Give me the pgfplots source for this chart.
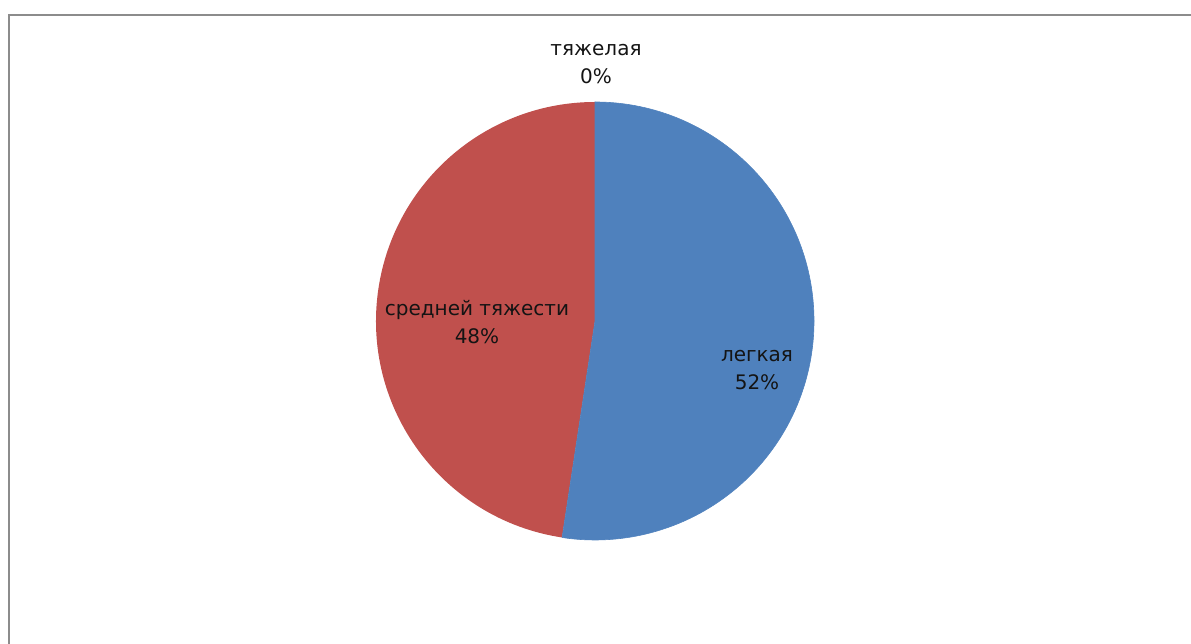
\documentclass[border=0pt]{standalone}
\usepackage{pgfplots}
\usepackage{pgfplotstable}
\pgfplotsset{compat=1.18}
\usepackage{fontspec}
\setmainfont{DejaVu Sans}

\definecolor{pieblue}{HTML}{4F81BD}
\definecolor{piered}{HTML}{C0504D}
\definecolor{frame}{HTML}{8C8C8C}
\definecolor{lbl}{HTML}{141414}

% severity shares, percent
\pgfplotstableread[col sep=comma]{
label,value
легкая,52.4
средней тяжести,47.6
тяжелая,0
}\piedata

\pgfplotstablegetelem{0}{value}\of\piedata \edef\va{\pgfplotsretval}
\pgfplotstablegetelem{1}{value}\of\piedata \edef\vb{\pgfplotsretval}
\pgfplotstablegetelem{2}{value}\of\piedata \edef\vc{\pgfplotsretval}
\pgfplotstablegetelem{0}{label}\of\piedata \edef\la{\pgfplotsretval}
\pgfplotstablegetelem{1}{label}\of\piedata \edef\lb{\pgfplotsretval}
\pgfplotstablegetelem{2}{label}\of\piedata \edef\lc{\pgfplotsretval}

\pgfmathsetmacro{\aa}{90-3.6*\va}
\pgfmathsetmacro{\ab}{\aa-3.6*\vb}
\newcommand{\pct}[1]{\pgfmathprintnumber[fixed,precision=0,assume math mode=true]{#1}\%}

\begin{document}
\begin{tikzpicture}
\begin{axis}[
    width=1191pt, height=644pt,
    scale only axis,
    xmin=0, xmax=1191, ymin=0, ymax=644,
    hide axis,
    clip=true,
]
% keep the whole chart area as the picture's box
\path (axis cs:0,0) rectangle (axis cs:1191,644);
% chart frame (cut off at right and bottom)
\draw[frame, line width=2pt] (axis cs:8.5,-10) -- (axis cs:8.5,628.5) -- (axis cs:1210,628.5);
% slices, clockwise from 12 o'clock
\fill[piered] (axis cs:595,323) -- ++(\aa:219pt)
    arc[start angle=\aa, end angle=\ab, radius=219pt] -- cycle;
\filldraw[pieblue, line width=0.6pt] (axis cs:595,323) -- ++(90:219pt)
    arc[start angle=90, end angle=\aa, radius=219pt] -- cycle;
% data labels
\begin{scope}[every node/.style={font=\fontsize{20}{28}\selectfont, text=lbl, align=center}]
\node at (axis cs:757,274) {\la\\\pct{\va}};
\node at (axis cs:477,322) {\lb\\\pct{\vb}};
\node at (axis cs:596,580) {\lc\\\pct{\vc}};
\end{scope}
\end{axis}
\end{tikzpicture}
\end{document}
